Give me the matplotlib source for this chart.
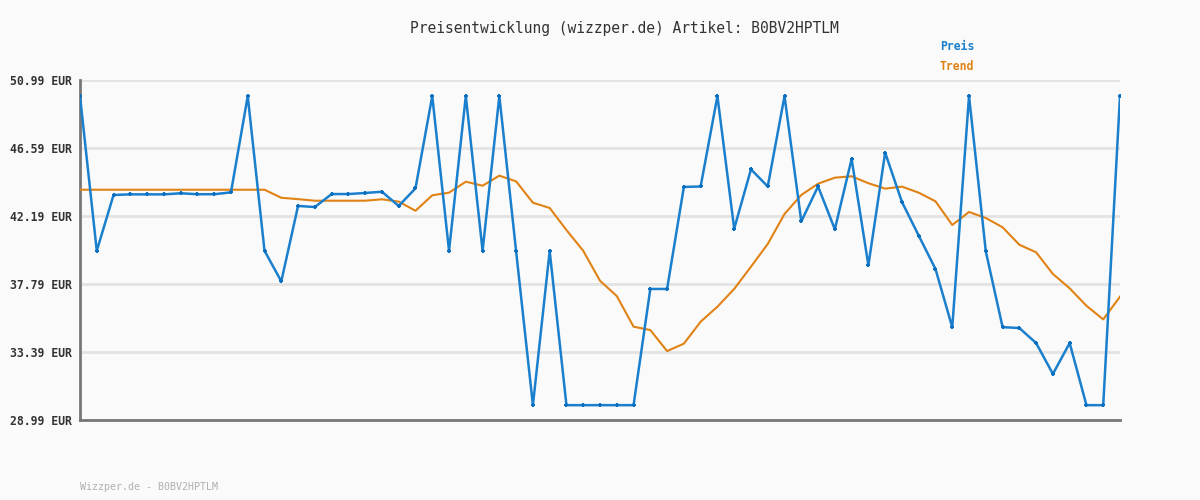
import matplotlib.pyplot as plt

# Price history (EUR), one value per sample
preis = [49.95, 39.94, 43.55, 43.59, 43.59, 43.59, 43.66, 43.60, 43.60, 43.72,
         49.95, 39.94, 37.96, 42.84, 42.77, 43.61, 43.61, 43.68, 43.76, 42.84,
         43.98, 49.95, 39.94, 49.95, 39.94, 49.95, 39.90, 29.95, 39.92, 29.95,
         29.95, 29.95, 29.95, 29.95, 37.47, 37.47, 44.07, 44.10, 49.95, 41.37,
         45.21, 44.10, 49.95, 41.84, 44.10, 41.33, 45.88, 39.00, 46.29, 43.10,
         40.92, 38.76, 34.99, 49.95, 39.90, 35.00, 34.94, 33.97, 31.97, 33.97,
         29.95, 29.95, 49.95]

trend = [43.89, 43.89, 43.89, 43.89, 43.89, 43.89, 43.89, 43.89, 43.89, 43.89,
         43.89, 43.89, 43.37, 43.28, 43.18, 43.18, 43.18, 43.18, 43.27, 43.12,
         42.53, 43.53, 43.70, 44.41, 44.15, 44.80, 44.43, 43.05, 42.71, 41.28,
         39.94, 38.00, 37.01, 35.03, 34.81, 33.45, 33.93, 35.35, 36.32, 37.47,
         38.91, 40.38, 42.32, 43.55, 44.28, 44.67, 44.76, 44.31, 43.96, 44.09,
         43.70, 43.14, 41.61, 42.45, 42.06, 41.46, 40.33, 39.84, 38.44, 37.51,
         36.38, 35.50, 36.97]

y_ticks = [28.99, 33.39, 37.79, 42.19, 46.59, 50.99]
artikel = "B0BV2HPTLM"

mono = "DejaVu Sans Mono"
bg = "#fafafa"

fig = plt.figure(figsize=(12, 5), dpi=100, facecolor=bg)
ax = fig.add_axes([80 / 1200, 80 / 500, 1040 / 1200, 340 / 500])
ax.set_facecolor(bg)

x = list(range(len(preis)))
ax.plot(x, trend, color="#e08214", linewidth=1.5, zorder=3)
ax.plot(x, preis, color="#1a7fcc", linewidth=1.8, marker="+", markersize=3.5,
        markeredgewidth=1.5, markeredgecolor="#0b6fbf", zorder=4)

ax.set_xlim(0, len(preis) - 1)
ax.set_ylim(y_ticks[0], y_ticks[-1])
ax.set_xticks([])
ax.set_yticks(y_ticks)
ax.set_yticklabels([f"{v:.2f} EUR" for v in y_ticks], family=mono,
                   fontsize=8.3, fontweight="bold", color="#333333")
ax.tick_params(axis="y", length=0, pad=6)
ax.grid(axis="y", color="#e3e3e3", linewidth=2)
ax.set_axisbelow(True)

for side in ["top", "right"]:
    ax.spines[side].set_visible(False)
for side in ["left", "bottom"]:
    ax.spines[side].set_color("#777777")
    ax.spines[side].set_linewidth(2)

fig.text(624 / 1200, 1 - 28 / 500, f"Preisentwicklung (wizzper.de) Artikel: {artikel}",
         family=mono, fontsize=10.5, color="#333333", ha="center", va="center")
fig.text(940 / 1200, 1 - 47 / 500, "Preis", family=mono, fontsize=8.3,
         fontweight="bold", color="#1a7fcc", ha="left", va="center")
fig.text(940 / 1200, 1 - 67 / 500, "Trend", family=mono, fontsize=8.3,
         fontweight="bold", color="#e08214", ha="left", va="center")
fig.text(80 / 1200, 1 - 487 / 500, f"Wizzper.de - {artikel}", family=mono,
         fontsize=7.2, color="#b0b0b0", ha="left", va="center")

fig.savefig("out.png", dpi=100, facecolor=bg)
